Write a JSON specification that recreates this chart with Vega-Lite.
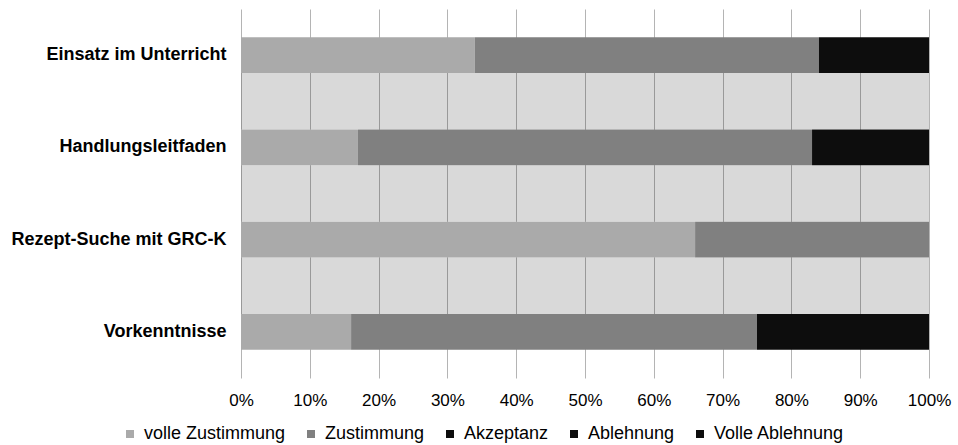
{
  "$schema": "https://vega.github.io/schema/vega-lite/v6.json",
  "width": 688,
  "height": 369,
  "autosize": "none",
  "padding": {"left": 241, "top": 9, "right": 29, "bottom": 67},
  "background": "white",
  "config": {
    "view": {"stroke": null},
    "font": "Liberation Sans"
  },
  "datasets": {
    "gaps": [{"gap": "a"}, {"gap": "b"}, {"gap": "c"}],
    "bars": [
      {"item": "Einsatz im Unterricht", "answer": "volle Zustimmung", "rank": 1, "pct": 34},
      {"item": "Einsatz im Unterricht", "answer": "Zustimmung", "rank": 2, "pct": 50},
      {"item": "Einsatz im Unterricht", "answer": "Akzeptanz", "rank": 3, "pct": 16},
      {"item": "Handlungsleitfaden", "answer": "volle Zustimmung", "rank": 1, "pct": 17},
      {"item": "Handlungsleitfaden", "answer": "Zustimmung", "rank": 2, "pct": 66},
      {"item": "Handlungsleitfaden", "answer": "Akzeptanz", "rank": 3, "pct": 17},
      {"item": "Rezept-Suche mit GRC-K", "answer": "volle Zustimmung", "rank": 1, "pct": 66},
      {"item": "Rezept-Suche mit GRC-K", "answer": "Zustimmung", "rank": 2, "pct": 34},
      {"item": "Vorkenntnisse", "answer": "volle Zustimmung", "rank": 1, "pct": 16},
      {"item": "Vorkenntnisse", "answer": "Zustimmung", "rank": 2, "pct": 59},
      {"item": "Vorkenntnisse", "answer": "Akzeptanz", "rank": 3, "pct": 25}
    ]
  },
  "layer": [
    {
      "data": {"name": "gaps"},
      "mark": {"type": "bar", "color": "black", "opacity": 0.15},
      "encoding": {
        "y": {
          "field": "gap",
          "type": "nominal",
          "axis": null,
          "scale": {"paddingInner": 0.39, "paddingOuter": 0.695}
        }
      }
    },
    {
      "data": {"name": "bars"},
      "mark": {"type": "bar"},
      "encoding": {
        "y": {
          "field": "item",
          "type": "nominal",
          "sort": ["Einsatz im Unterricht", "Handlungsleitfaden", "Rezept-Suche mit GRC-K", "Vorkenntnisse"],
          "scale": {"paddingInner": 0.61, "paddingOuter": 0.305},
          "axis": {
            "orient": "left",
            "title": null,
            "domain": false,
            "ticks": false,
            "grid": false,
            "labelPadding": 15,
            "labelFontSize": 18,
            "labelFontWeight": "bold",
            "labelColor": "#000000",
            "labelLimit": 300
          }
        },
        "x": {
          "field": "pct",
          "type": "quantitative",
          "stack": "zero",
          "scale": {"domain": [0, 100], "nice": false},
          "axis": {
            "title": null,
            "values": [0, 10, 20, 30, 40, 50, 60, 70, 80, 90, 100],
            "labelExpr": "datum.value + '%'",
            "domain": false,
            "ticks": false,
            "grid": true,
            "gridColor": "#b4b4b4",
            "gridWidth": 1,
            "labelPadding": 14,
            "labelFontSize": 17,
            "labelColor": "#000000",
            "labelFlush": false
          }
        },
        "order": {"field": "rank", "type": "quantitative", "sort": "ascending"},
        "color": {
          "field": "answer",
          "type": "nominal",
          "sort": ["volle Zustimmung", "Zustimmung", "Akzeptanz", "Ablehnung", "Volle Ablehnung"],
          "scale": {
            "domain": ["volle Zustimmung", "Zustimmung", "Akzeptanz", "Ablehnung", "Volle Ablehnung"],
            "range": ["#aaaaaa", "#808080", "#0d0d0d", "#0d0d0d", "#0d0d0d"]
          },
          "legend": {
            "orient": "none",
            "legendX": -120,
            "legendY": 416,
            "direction": "horizontal",
            "title": null,
            "symbolType": "square",
            "symbolSize": 64,
            "symbolStrokeWidth": 0,
            "labelFontSize": 18,
            "labelColor": "#000000",
            "labelOffset": 5,
            "columnPadding": 16,
            "labelLimit": 300,
            "padding": 0
          }
        }
      }
    }
  ],
  "resolve": {"scale": {"y": "independent"}}
}
